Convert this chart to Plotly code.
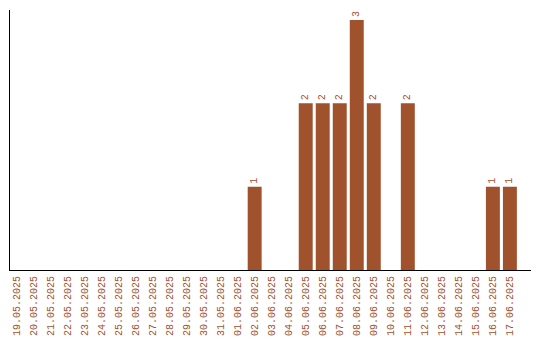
import plotly.graph_objects as go

dates = ["19.05.2025", "20.05.2025", "21.05.2025", "22.05.2025", "23.05.2025",
         "24.05.2025", "25.05.2025", "26.05.2025", "27.05.2025", "28.05.2025",
         "29.05.2025", "30.05.2025", "31.05.2025", "01.06.2025", "02.06.2025",
         "03.06.2025", "04.06.2025", "05.06.2025", "06.06.2025", "07.06.2025",
         "08.06.2025", "09.06.2025", "10.06.2025", "11.06.2025", "12.06.2025",
         "13.06.2025", "14.06.2025", "15.06.2025", "16.06.2025", "17.06.2025"]
counts = [0, 0, 0, 0, 0, 0, 0, 0, 0, 0, 0, 0, 0, 0, 1,
          0, 0, 2, 2, 2, 3, 2, 0, 2, 0, 0, 0, 0, 1, 1]
labels = [str(v) if v > 0 else "" for v in counts]

color = "#A0522D"
font = "Liberation Mono"

fig = go.Figure(go.Bar(
    x=dates, y=counts, marker=dict(color=color, line=dict(width=0)),
    text=labels, textposition="outside", textangle=-90,
    textfont=dict(family=font, size=10, color=color),
    cliponaxis=False,
))
fig.update_layout(
    width=540, height=340,
    margin=dict(l=10, r=9, t=10, b=70),
    paper_bgcolor="white", plot_bgcolor="white",
    bargap=0.18, showlegend=False,
    font=dict(family=font, size=10, color=color),
)
fig.update_xaxes(type="category", range=[-0.38, 30.24], tickangle=-90,
                 automargin=False, ticklabelstandoff=1,
                 showline=True, linecolor="black", linewidth=1,
                 showgrid=False, ticks="", tickfont=dict(family=font, size=10, color=color))
fig.update_yaxes(range=[0, 3.12], showline=True, linecolor="black", linewidth=1,
                 automargin=False,
                 showgrid=False, zeroline=False, showticklabels=False, ticks="")
fig.write_html("out.html")
